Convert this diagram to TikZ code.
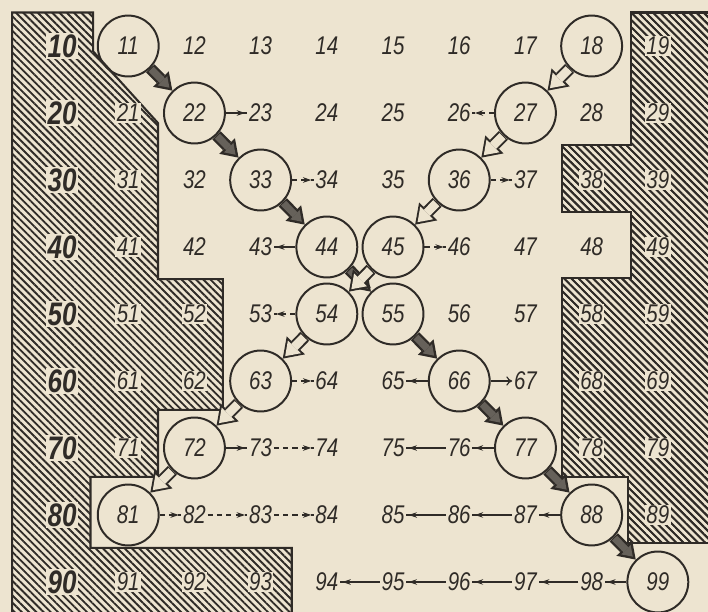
\documentclass[tikz,border=0pt]{standalone}
\usepackage{fontspec}
\setmainfont{Liberation Sans}
\newfontfamily\gostfont[FakeStretch=0.8]{Liberation Sans}
\usepackage{xcolor}
\definecolor{cInk}{HTML}{2F2B27}
\definecolor{cPaper}{HTML}{EDE4D0}
\definecolor{cShade}{HTML}{66615A}
\usepackage{tikz}
\usetikzlibrary{arrows.meta,patterns.meta,decorations.markings}
\tikzset{
  cell-num/.style={font=\gostfont\itshape\fontsize{11}{11}\selectfont,
    fill=cPaper,inner sep=0.6pt,text=cInk},
  cell-head/.style={cell-num,font=\gostfont\itshape\bfseries\fontsize{14}{14}\selectfont},
  cell-circ/.style={draw=cInk,line width=0.85pt,circle,minimum size=9.2mm,inner sep=0pt},
  wall/.style={draw=cInk,line width=0.9pt,pattern color=cInk,
    pattern={Lines[angle=-45,distance=2.2pt,line width=0.8pt]}},
  % thick arrows: dark path and hollow path, each drawn twice
  path-dark/.style={draw=cInk,line width=5pt,
    -{Triangle[length=7pt,width=9.5pt,line width=0pt]},
    postaction={draw=cShade,line width=3pt,
      -{Triangle[length=4.2pt,width=5.7pt,line width=0pt]},
      shorten >=1.8pt,shorten <=0.5pt}},
  path-hollow/.style={draw=cInk,line width=5.4pt,
    -{Triangle[length=8pt,width=11pt,line width=0pt]},
    postaction={draw=cPaper,line width=3.7pt,
      -{Triangle[length=5.6pt,width=7.8pt,line width=0pt]},
      shorten >=1.5pt,shorten <=0.5pt}},
  flow/.style={draw=cInk,line width=0.5pt,
    decoration={markings,mark=at position -1pt with
      {\arrow{Stealth[length=3.6pt,width=2.4pt]}}},postaction={decorate}},
  flow-dashed/.style={flow,dash pattern=on 2.2pt off 1.8pt},
  flow-open/.style={draw=cInk,line width=0.5pt,-{To[length=2.5pt,width=4pt]}},
}

\begin{document}
\begin{tikzpicture}[x=1cm,y=-1.012cm]
  \fill[cPaper] (-0.937,-0.687) rectangle (9.758,8.448);
  \useasboundingbox (-0.937,-0.687) rectangle (9.758,8.448);

  % walls
  \draw[wall] (-0.755,8.6) -- (-0.755,-0.5) -- (0.47,-0.5) -- (0.47,0.08)
    -- (1.45,1.15) -- (1.45,3.48) -- (2.43,3.48) -- (2.43,5.43) -- (1.45,5.43)
    -- (1.45,6.43) -- (0.43,6.43) -- (0.43,7.49) -- (3.47,7.49) -- (3.47,8.6) -- cycle;
  \draw[wall] (9.9,-0.5) -- (8.6,-0.5) -- (8.6,1.48) -- (7.55,1.48) -- (7.55,2.48)
    -- (8.6,2.48) -- (8.6,3.46) -- (7.55,3.46) -- (7.55,6.43) -- (8.55,6.43)
    -- (8.55,7.42) -- (9.9,7.42);
  \fill[pattern color=cInk,pattern={Lines[angle=-45,distance=2.2pt,line width=0.8pt]}]
    (9.9,-0.5) -- (8.6,-0.5) -- (8.6,1.48) -- (7.55,1.48) -- (7.55,2.48)
    -- (8.6,2.48) -- (8.6,3.46) -- (7.55,3.46) -- (7.55,6.43) -- (8.55,6.43)
    -- (8.55,7.42) -- (9.9,7.42) -- cycle;

  % cell numbers
  \foreach \r in {1,...,9}
    \node[cell-head] (n\r0) at (0,\r-1) {\r0};
  \foreach \r in {1,...,9}
    \foreach \c in {1,...,9}
      \node[cell-num] (n\r\c) at (\c,\r-1) {\r\c};

  % circled cells
  \foreach \n in {11,22,33,44,55,66,77,88,99,18,27,36,45,54,63,72,81}
    \node[cell-circ] (c\n) at (n\n) {};

  % main paths
  \foreach \a/\b in {11/22,22/33,33/44,44/55,55/66,66/77,77/88,88/99}
    \draw[path-dark] (c\a) -- (c\b);
  \foreach \a/\b in {18/27,27/36,36/45,45/54,54/63,63/72,72/81}
    \draw[path-hollow] (c\a) -- (c\b);

  % side moves
  \draw[flow] (c22) -- (n23);
  \draw[flow] (c44) -- (n43);
  \draw[flow] (c66) -- (n65);
  \draw[flow-open] (c66) -- (n67);
  \draw[flow] (c72) -- (n73);
  \foreach \a/\b in {33/34,27/26,36/37,45/46,54/53,63/64,81/82}
    \draw[flow-dashed] (c\a) -- (n\b);
  \foreach \a/\b in {73/74,82/83,83/84}
    \draw[flow-dashed] (n\a) -- (n\b);
  \foreach \a/\b in {77/76,88/87,99/98}
    \draw[flow] (c\a) -- (n\b);
  \foreach \a/\b in {76/75,87/86,86/85,98/97,97/96,96/95,95/94}
    \draw[flow] (n\a) -- (n\b);
\end{tikzpicture}
\end{document}
